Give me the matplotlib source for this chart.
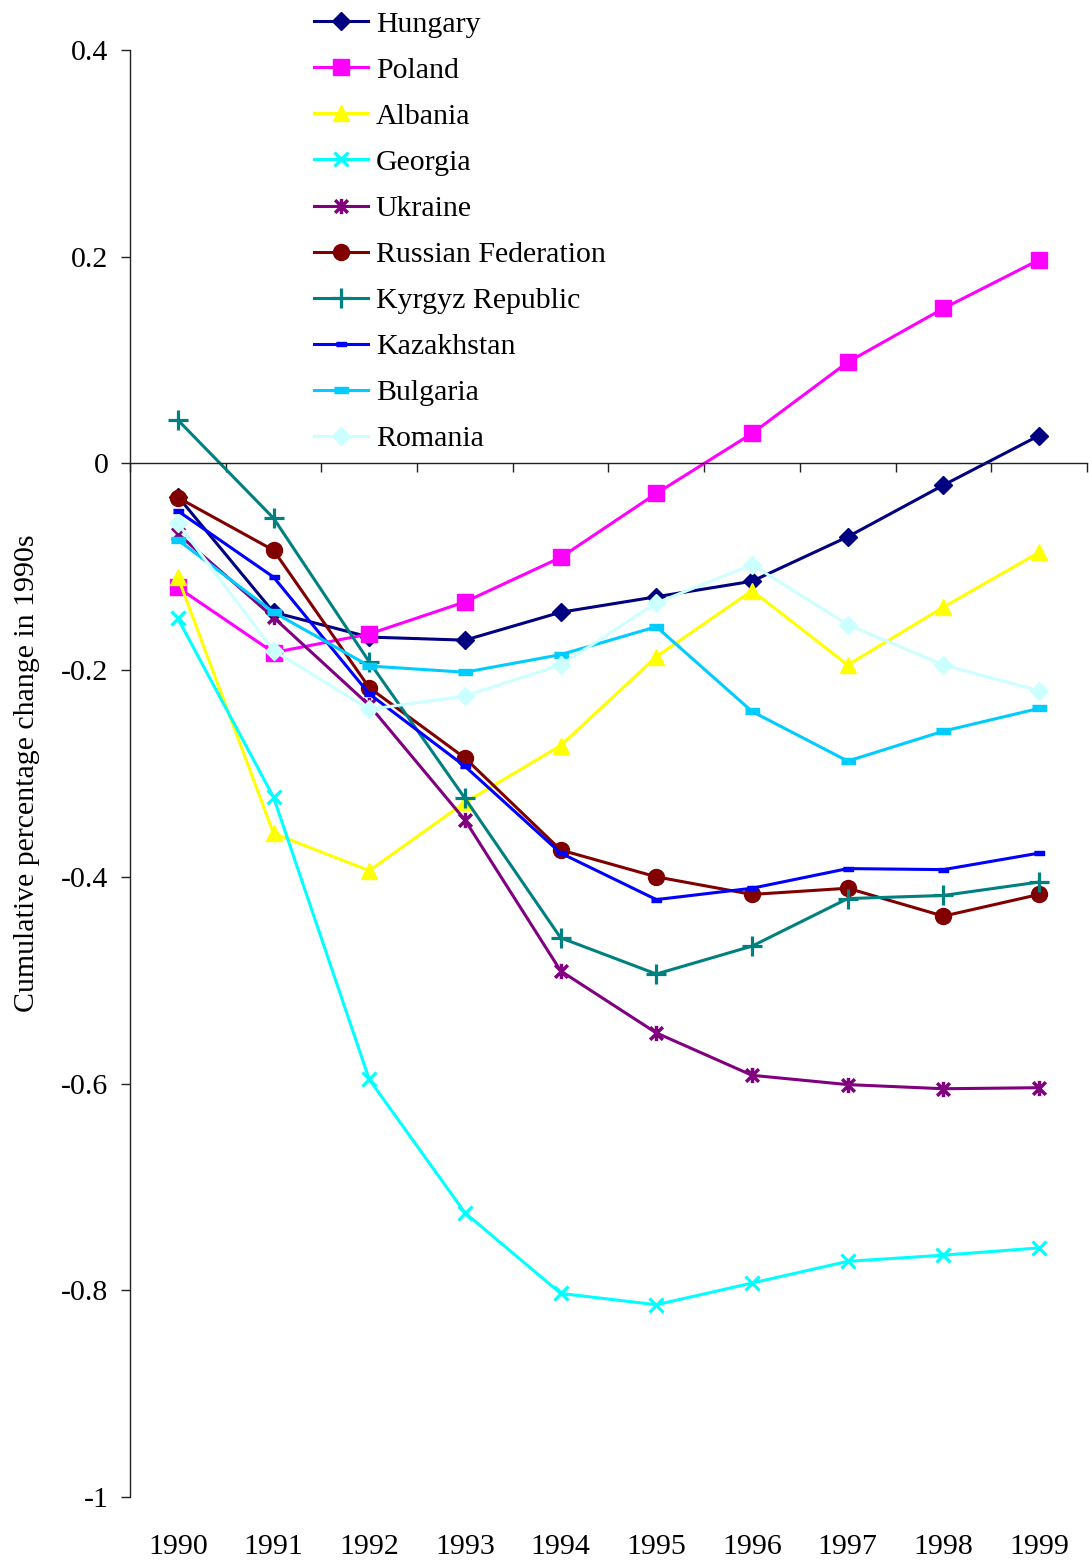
import matplotlib
matplotlib.use("Agg")
import matplotlib.pyplot as plt
from matplotlib.path import Path
from matplotlib.ticker import FixedLocator, FuncFormatter

plt.rcParams['font.family'] = ['Liberation Serif', 'DejaVu Serif']

years = [1990, 1991, 1992, 1993, 1994, 1995, 1996, 1997, 1998, 1999]

hungary = [-0.032, -0.144, -0.168, -0.171, -0.144, -0.129, -0.114, -0.071, -0.021, 0.027]
poland = [-0.120, -0.183, -0.165, -0.134, -0.091, -0.029, 0.029, 0.098, 0.150, 0.197]
albania = [-0.110, -0.358, -0.394, -0.328, -0.273, -0.187, -0.123, -0.195, -0.139, -0.086]
georgia = [-0.150, -0.323, -0.596, -0.725, -0.803, -0.814, -0.793, -0.772, -0.766, -0.759]
ukraine = [-0.068, -0.149, -0.234, -0.345, -0.491, -0.551, -0.592, -0.601, -0.605, -0.604]
russia = [-0.033, -0.084, -0.217, -0.285, -0.374, -0.400, -0.417, -0.411, -0.438, -0.417]
kyrgyz = [0.042, -0.053, -0.192, -0.324, -0.459, -0.494, -0.467, -0.421, -0.418, -0.405]
kazakhstan = [-0.046, -0.110, -0.223, -0.293, -0.377, -0.422, -0.411, -0.392, -0.393, -0.377]
bulgaria = [-0.074, -0.144, -0.196, -0.202, -0.185, -0.158, -0.240, -0.288, -0.259, -0.237]
romania = [-0.058, -0.181, -0.238, -0.225, -0.195, -0.135, -0.098, -0.156, -0.195, -0.220]

names = ['Hungary', 'Poland', 'Albania', 'Georgia', 'Ukraine', 'Russian Federation',
         'Kyrgyz Republic', 'Kazakhstan', 'Bulgaria', 'Romania']
series = [hungary, poland, albania, georgia, ukraine, russia, kyrgyz, kazakhstan,
          bulgaria, romania]

# excel-like markers
star = Path([(-1, -1), (1, 1), (-1, 1), (1, -1), (0, -1.2), (0, 1.2)],
            [Path.MOVETO, Path.LINETO, Path.MOVETO, Path.LINETO, Path.MOVETO, Path.LINETO])
dash = [(-1, -0.45), (1, -0.45), (1, 0.45), (-1, 0.45)]

styles = [
    dict(color='#000080', marker='D', ms=9.5),
    dict(color='#FF00FF', marker='s', ms=11),
    dict(color='#FFFF00', marker='^', ms=11.5),
    dict(color='#00FFFF', marker='x', ms=10.5, mew=2.3),
    dict(color='#800080', marker=star, ms=11, mew=2.5, mfc='none'),
    dict(color='#800000', marker='o', ms=11.5),
    dict(color='#008080', marker='+', ms=14, mew=2.3),
    dict(color='#0000FF', marker=dash, ms=7.5),
    dict(color='#00CCFF', marker=dash, ms=10.5),
    dict(color='#CCFFFF', marker='D', ms=9.5),
]

fig = plt.figure(figsize=(10.89, 15.62), dpi=100)
ax = fig.add_axes([130 / 1089, 1 - 1497 / 1562, 957 / 1089, 1447 / 1562])

for name, vals, st in zip(names, series, styles):
    ax.plot(years, vals, lw=2.2, label=name, **st)

ax.set_xlim(1989.5, 1999.5)
ax.set_ylim(-1, 0.4)

# spines: left and a horizontal axis crossing at zero
ax.spines['top'].set_visible(False)
ax.spines['right'].set_visible(False)
ax.spines['bottom'].set_position(('data', 0))
for s in ('left', 'bottom'):
    ax.spines[s].set_linewidth(1.0)
    ax.spines[s].set_color('#222222')

ax.set_yticks([-1, -0.8, -0.6, -0.4, -0.2, 0, 0.2, 0.4])
ax.yaxis.set_major_formatter(FuncFormatter(lambda v, p: f'{round(v, 1):g}'))
ax.tick_params(axis='y', direction='out', length=6.5, width=1, pad=9,
               labelsize=21.5, color='#222222')

# category boundary ticks on the zero line
ax.xaxis.set_major_locator(FixedLocator([y - 0.5 for y in years] + [1999.5]))
ax.tick_params(axis='x', direction='out', length=6.5, width=1, labelbottom=False,
               color='#222222')

# year labels along the bottom edge
sec = ax.secondary_xaxis('bottom')
sec.set_xticks(years)
sec.set_xticklabels([str(y) for y in years])
sec.tick_params(length=0, pad=27, labelsize=21.5)
sec.spines['bottom'].set_visible(False)

ax.set_ylabel('Cumulative percentage change in 1990s', fontsize=21.5, labelpad=15)

ax.legend(loc='upper left', bbox_to_anchor=(314 / 1089, 1 - 11 / 1562),
          bbox_transform=fig.transFigure, frameon=False, fontsize=21.5,
          handlelength=1.8, handletextpad=0.27, labelspacing=0.64,
          borderpad=0, borderaxespad=0)

fig.savefig('out.png', dpi=100)
